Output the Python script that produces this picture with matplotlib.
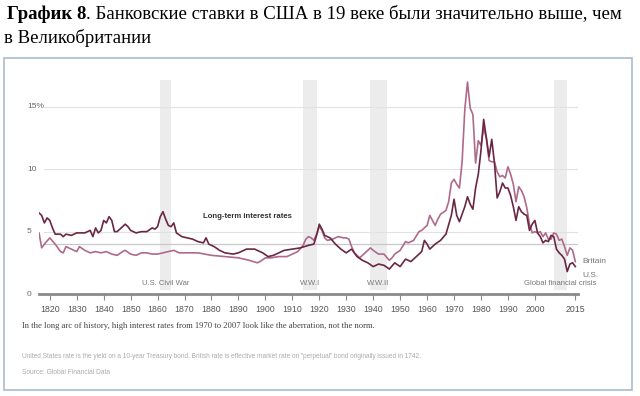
import matplotlib.pyplot as plt
from matplotlib.patches import Rectangle
from matplotlib.transforms import blended_transform_factory

# long-term rates, %
us_years = [1816, 1817, 1818, 1819, 1820, 1821, 1822, 1824, 1825, 1826, 1828, 1830, 1833, 1835,
            1836, 1837, 1838, 1839, 1840, 1841, 1842, 1843, 1844, 1845, 1846, 1848, 1849, 1850,
            1852, 1854, 1856, 1858, 1859, 1860, 1861, 1862, 1863, 1864, 1865, 1866, 1867, 1869,
            1871, 1873, 1875, 1877, 1878, 1879, 1881, 1883, 1885, 1888, 1890, 1893, 1896, 1899,
            1901, 1903, 1905, 1907, 1910, 1913, 1916, 1918, 1919, 1920, 1921, 1922, 1924, 1926,
            1928, 1930, 1932, 1934, 1936, 1938, 1940, 1942, 1944, 1946, 1948, 1950, 1952, 1954,
            1956, 1958, 1959, 1960, 1961, 1963, 1965, 1967, 1969, 1970, 1971, 1972, 1973, 1974,
            1975, 1976, 1977, 1978, 1979, 1980, 1981, 1982, 1983, 1984, 1985, 1986, 1987, 1988,
            1989, 1990, 1991, 1992, 1993, 1994, 1995, 1996, 1997, 1998, 1999, 2000, 2001, 2002,
            2003, 2004, 2005, 2006, 2007, 2008, 2009, 2010, 2011, 2012, 2013, 2014, 2015]
us_rates = [6.5, 6.3, 5.7, 6.1, 5.9, 5.3, 4.8, 4.8, 4.6, 4.8, 4.7, 4.9, 4.9, 5.1,
            4.6, 5.3, 4.9, 5.1, 5.9, 5.7, 6.2, 5.9, 5.0, 5.0, 5.2, 5.6, 5.4, 5.1,
            4.9, 5.0, 5.0, 5.3, 5.2, 5.4, 6.2, 6.6, 6.0, 5.5, 5.4, 5.7, 4.9, 4.6,
            4.5, 4.4, 4.2, 4.1, 4.5, 4.0, 3.8, 3.5, 3.3, 3.2, 3.3, 3.6, 3.6, 3.3,
            3.0, 3.1, 3.3, 3.5, 3.6, 3.7, 3.9, 4.0, 4.7, 5.6, 5.2, 4.7, 4.5, 4.0,
            3.6, 3.3, 3.6, 3.0, 2.7, 2.5, 2.2, 2.4, 2.3, 2.0, 2.5, 2.2, 2.8, 2.6,
            3.0, 3.4, 4.3, 4.0, 3.6, 4.0, 4.3, 4.8, 6.3, 7.6, 6.3, 5.8, 6.4, 7.0,
            7.8, 7.2, 6.8, 8.5, 9.6, 11.5, 14.0, 12.5, 11.0, 12.4, 10.5, 7.7, 8.2, 8.9,
            8.5, 8.5, 7.9, 7.0, 5.9, 7.0, 6.6, 6.4, 6.3, 5.1, 5.6, 5.9, 4.9, 4.6,
            4.1, 4.3, 4.2, 4.7, 4.6, 3.6, 3.3, 3.1, 2.8, 1.8, 2.4, 2.5, 2.2]

uk_years = [1816, 1817, 1818, 1820, 1822, 1824, 1825, 1826, 1828, 1830, 1831, 1833, 1835, 1837,
            1839, 1841, 1843, 1845, 1847, 1848, 1850, 1852, 1854, 1856, 1858, 1860, 1862, 1864,
            1866, 1868, 1870, 1875, 1880, 1885, 1890, 1894, 1897, 1898, 1900, 1902, 1905, 1908,
            1910, 1912, 1914, 1915, 1916, 1917, 1918, 1919, 1920, 1921, 1922, 1923, 1925, 1927,
            1929, 1930, 1931, 1932, 1933, 1935, 1937, 1939, 1940, 1942, 1944, 1946, 1947, 1948,
            1950, 1952, 1953, 1955, 1957, 1958, 1960, 1961, 1962, 1963, 1964, 1965, 1967, 1968,
            1969, 1970, 1971, 1972, 1973, 1974, 1975, 1976, 1977, 1978, 1979, 1980, 1981, 1982,
            1983, 1984, 1985, 1986, 1987, 1988, 1989, 1990, 1991, 1992, 1993, 1994, 1995, 1996,
            1997, 1998, 1999, 2000, 2001, 2002, 2003, 2004, 2005, 2006, 2007, 2008, 2009, 2010,
            2011, 2012, 2013, 2014, 2015]
uk_rates = [4.9, 3.7, 4.0, 4.5, 4.0, 3.4, 3.3, 3.8, 3.6, 3.4, 3.8, 3.5, 3.3, 3.4,
            3.3, 3.4, 3.2, 3.1, 3.4, 3.5, 3.2, 3.1, 3.3, 3.3, 3.2, 3.2, 3.3, 3.4,
            3.5, 3.3, 3.3, 3.3, 3.1, 3.0, 2.9, 2.7, 2.5, 2.6, 2.9, 2.9, 3.0, 3.0,
            3.2, 3.4, 3.9, 4.4, 4.6, 4.5, 4.3, 4.8, 5.4, 5.1, 4.5, 4.3, 4.4, 4.6,
            4.5, 4.5, 4.4, 3.8, 3.3, 2.9, 3.3, 3.7, 3.5, 3.2, 3.2, 2.7, 2.9, 3.2,
            3.5, 4.2, 4.1, 4.3, 5.0, 5.1, 5.5, 6.3, 5.9, 5.5, 6.0, 6.4, 6.7, 7.4,
            8.9, 9.2, 8.8, 8.5, 10.6, 14.8, 17.0, 14.9, 14.4, 10.5, 12.3, 11.9, 13.3, 12.5,
            10.7, 10.6, 10.6, 9.8, 9.4, 9.5, 9.3, 10.2, 9.6, 8.8, 7.4, 8.6, 8.3, 7.8,
            6.9, 5.6, 4.9, 5.0, 4.9, 5.0, 4.6, 4.9, 4.4, 4.4, 4.9, 4.8, 4.3, 4.4,
            3.8, 3.1, 3.7, 3.5, 2.6]

# shaded periods
periods = [(1861, 1865, 'U.S. Civil War'), (1914, 1919, 'W.W.I'),
           (1939, 1945, 'W.W.II'), (2007, 2012, 'Global financial crisis')]

tick_years = list(range(1820, 2001, 10)) + [2015]
y_ticks = [0, 5, 10, 15]
y_labels = ['0', '5', '10', '15%']

sans = ['Liberation Sans', 'DejaVu Sans']
serif = ['Liberation Serif', 'DejaVu Serif']

fig = plt.figure(figsize=(6.4, 3.96), dpi=100)
fig.patch.set_facecolor('white')

# frame around chart
fig.add_artist(Rectangle((4 / 640, 1 - 390 / 396), 628 / 640, 332 / 396,
                         transform=fig.transFigure, fill=False,
                         edgecolor='#a9bccd', linewidth=1.2))

ax = fig.add_axes([39 / 640, 1 - 294 / 396, 539 / 640, 214.5 / 396])
ax.set_xlim(1816, 2016)
ax.set_ylim(0, 17.2)

for start, end, name in periods:
    ax.axvspan(start, end, ymin=0.02, ymax=1, color='#ececec', lw=0, zorder=0)
    ax.text((start + end) / 2, 0.85, name, ha='center', va='center', fontsize=5.5,
            color='#777777', family=sans)

for y in [5, 10, 15]:
    ax.axhline(y, xmin=0.01, color='#e2e2e2', lw=0.8, zorder=1)
ax.axhline(4, xmin=0.01, color='#c8c8c8', lw=0.9, zorder=1)

ax.plot(uk_years, uk_rates, color='#b06a89', lw=1.2, zorder=3)
ax.plot(us_years, us_rates, color='#6a2744', lw=1.2, zorder=4)

ax.text(1876.7, 6.25, 'Long-term interest rates', fontsize=5.6, fontweight='bold',
        color='#333333', va='center', family=sans)
ax.text(2017.5, 2.6, 'Britain', fontsize=6, color='#777777', va='center',
        family=sans, clip_on=False)
ax.text(2017.5, 1.5, 'U.S.', fontsize=6, color='#777777', va='center',
        family=sans, clip_on=False)

trans = blended_transform_factory(fig.transFigure, ax.transData)
for y, lab in zip(y_ticks, y_labels):
    ax.text(27 / 640, y, lab, transform=trans, fontsize=6, color='#666666',
            va='center', ha='left', family=sans)

for s in ['top', 'right', 'left']:
    ax.spines[s].set_visible(False)
ax.spines['bottom'].set_color('#8a8a8a')
ax.spines['bottom'].set_linewidth(2)
ax.set_yticks([])
ax.set_xticks(tick_years)
ax.set_xticklabels([str(y) for y in tick_years], family=sans)
ax.tick_params(axis='x', length=4, width=0.8, color='#8a8a8a', labelsize=6.3,
               labelcolor='#555555', pad=4)

# title
title_y = 1 - 14 / 396
t1 = fig.text(7 / 640, title_y, 'График 8', fontsize=13.5, fontweight='bold',
              family=serif, va='center')
fig.canvas.draw()
bb = t1.get_window_extent()
fig.text(bb.x1 / 640, title_y,
         '. Банковские ставки в США в 19 веке были значительно выше, чем',
         fontsize=13.5, family=serif, va='center')
fig.text(4 / 640, 1 - 38 / 396, 'в Великобритании', fontsize=13.5, family=serif, va='center')

# notes below chart
fig.text(22 / 640, 1 - 326 / 396,
         'In the long arc of history, high interest rates from 1970 to 2007 look like the aberration, not the norm.',
         fontsize=6.2, family=serif, color='#444444', va='center')
fig.text(22 / 640, 1 - 357 / 396,
         'United States rate is the yield on a 10-year Treasury bond. British rate is effective market rate on '
         '"perpetual" bond originally issued in 1742.',
         fontsize=4.7, family=sans, color='#aaaaaa', va='center')
fig.text(22 / 640, 1 - 373 / 396, 'Source: Global Financial Data', fontsize=4.8, family=sans,
         color='#aaaaaa', va='center')

fig.savefig('out.png', dpi=100)
